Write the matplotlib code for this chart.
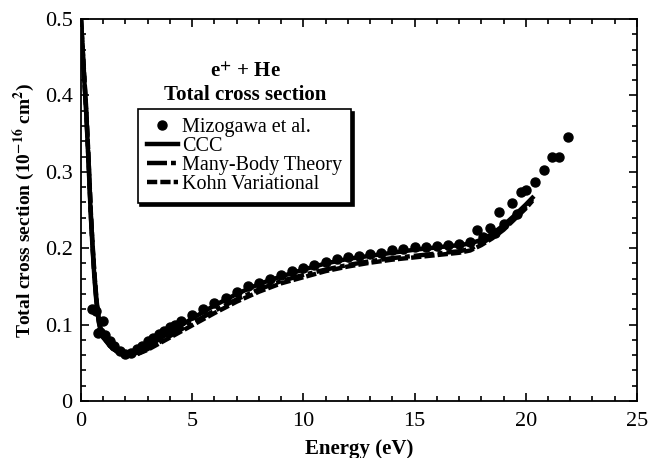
import matplotlib
matplotlib.use("Agg")
import matplotlib.pyplot as plt
from matplotlib.ticker import MultipleLocator

plt.rcParams['font.family'] = ['Liberation Serif', 'DejaVu Serif']
plt.rcParams['mathtext.fontset'] = 'stix'

# Theory curves (energy in eV, cross section in 1e-16 cm^2)
theory_energy = [0.0, 0.1, 0.24, 0.35, 0.44, 0.52, 0.6, 0.7, 0.8, 0.9, 1.0, 1.3, 1.6, 2.0,
                 2.5, 3.0, 4.0, 5.0, 6.0, 7.0, 8.0, 9.0, 10.0, 11.0, 12.0, 13.0, 14.0,
                 15.0, 16.0, 17.0, 17.5, 18.0, 18.5, 19.0, 19.5, 20.0, 20.3]
ccc = [0.500, 0.445, 0.374, 0.305, 0.243, 0.200, 0.163, 0.127, 0.103, 0.090, 0.083, 0.072,
       0.065, 0.060, 0.063, 0.071, 0.090, 0.108, 0.125, 0.140, 0.153, 0.163, 0.172, 0.180,
       0.186, 0.190, 0.194, 0.198, 0.201, 0.204, 0.206, 0.211, 0.219, 0.230, 0.243, 0.257,
       0.266]
mbt = [0.500, 0.447, 0.377, 0.308, 0.246, 0.203, 0.166, 0.130, 0.105, 0.091, 0.084, 0.072,
       0.065, 0.059, 0.061, 0.068, 0.085, 0.102, 0.118, 0.133, 0.146, 0.157, 0.165, 0.172,
       0.178, 0.183, 0.187, 0.190, 0.193, 0.196, 0.199, 0.206, 0.215, 0.226, 0.240, 0.254,
       0.264]
kohn = [0.500, 0.449, 0.380, 0.311, 0.249, 0.206, 0.169, 0.132, 0.107, 0.092, 0.085, 0.073,
        0.066, 0.060, 0.061, 0.067, 0.083, 0.099, 0.115, 0.130, 0.143, 0.154, 0.162, 0.170,
        0.176, 0.181, 0.185, 0.188, 0.191, 0.194, 0.197, 0.204, 0.213, 0.224, 0.238, 0.252,
        0.262]

# Mizogawa et al. measurements
exp_energy = [0.5, 0.67, 0.75, 0.85, 1.0, 1.1, 1.3, 1.5, 1.75, 2.0, 2.25, 2.5, 2.75, 3.0,
              3.25, 3.5, 3.75, 4.0, 4.25, 4.5, 5.0, 5.5, 6.0, 6.5, 7.0, 7.5, 8.0, 8.5,
              9.0, 9.5, 10.0, 10.5, 11.0, 11.5, 12.0, 12.5, 13.0, 13.5, 14.0, 14.5, 15.0,
              15.5, 16.0, 16.5, 17.0, 17.5, 17.8, 18.1, 18.4, 18.6, 18.8, 19.0, 19.4,
              19.6, 19.8, 20.0, 20.4, 20.8, 21.2, 21.5, 21.9]
exp_sigma = [0.120, 0.118, 0.089, 0.090, 0.105, 0.086, 0.078, 0.072, 0.066, 0.062, 0.063,
             0.068, 0.072, 0.078, 0.082, 0.088, 0.092, 0.097, 0.100, 0.105, 0.112, 0.120,
             0.128, 0.135, 0.142, 0.150, 0.155, 0.160, 0.165, 0.170, 0.174, 0.178, 0.182,
             0.186, 0.188, 0.190, 0.192, 0.194, 0.197, 0.199, 0.201, 0.202, 0.203, 0.204,
             0.205, 0.208, 0.224, 0.215, 0.226, 0.220, 0.247, 0.232, 0.259, 0.245, 0.274,
             0.276, 0.287, 0.302, 0.320, 0.320, 0.345]

fig = plt.figure(figsize=(6.51, 4.58), dpi=100)
ax = fig.add_axes([0.1244, 0.1245, 0.854, 0.834])

ax.plot(exp_energy, exp_sigma, 'o', color='black', markersize=6.5, label='Mizogawa et al.')
ax.plot(theory_energy, ccc, '-', color='black', lw=3.2, label='CCC')
ax.plot(theory_energy, mbt, color='black', lw=3.2, dashes=(4.5, 0.9, 1.1, 0.9), label='Many-Body Theory')
ax.plot(theory_energy, kohn, color='black', lw=3.2, dashes=(2.3, 0.7), label='Kohn Variational')

ax.set_xlim(0, 25)
ax.set_ylim(0, 0.5)
ax.xaxis.set_major_locator(MultipleLocator(5))
ax.xaxis.set_minor_locator(MultipleLocator(1))
ax.yaxis.set_major_locator(MultipleLocator(0.1))
ax.yaxis.set_minor_locator(MultipleLocator(0.02))
ax.set_yticks([0, 0.1, 0.2, 0.3, 0.4, 0.5])
ax.set_yticklabels(['0', '0.1', '0.2', '0.3', '0.4', '0.5'])
ax.tick_params(which='both', direction='in', top=True, right=True, labelsize=16, width=1.2)
ax.tick_params(axis='x', pad=8)
ax.tick_params(axis='y', pad=6)
ax.tick_params(which='major', length=6)
ax.tick_params(which='minor', length=3.5)
for s in ax.spines.values():
    s.set_linewidth(1.3)

ax.set_xlabel('Energy (eV)', fontsize=15, fontweight='bold', labelpad=6)
ax.set_ylabel(r'Total cross section (10$^{\mathbf{-16}}$ cm$^{\mathbf{2}}$)', fontsize=14,
              fontweight='bold', labelpad=5)

ax.text(0.295, 0.86, r'e$^{\mathbf{+}}$ + He', transform=ax.transAxes, ha='center',
        va='center', fontsize=15, fontweight='bold')
ax.text(0.295, 0.80, 'Total cross section', transform=ax.transAxes, ha='center',
        va='center', fontsize=15, fontweight='bold')

leg = ax.legend(loc='upper left', bbox_to_anchor=(0.102, 0.765), fontsize=14.5, frameon=True,
                fancybox=False, shadow={'color': 'black', 'alpha': 1.0}, edgecolor='black',
                handlelength=1.55, handletextpad=0.2, borderpad=0.45, labelspacing=0.0,
                borderaxespad=0, numpoints=1)
leg.get_frame().set_linewidth(1.2)

fig.savefig('out.png', dpi=100)
